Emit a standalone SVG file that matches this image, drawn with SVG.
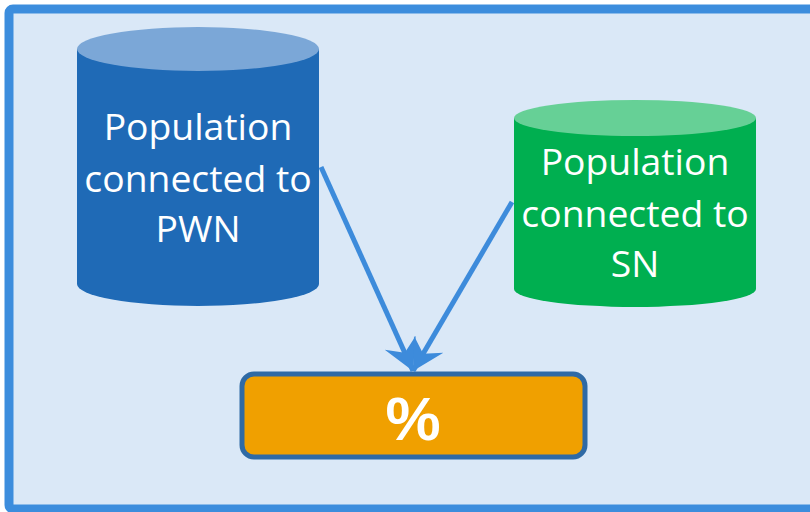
<svg xmlns="http://www.w3.org/2000/svg" width="810" height="512" viewBox="0 0 810 512">
  <defs>
    <style>
      .lbl { font-family: "Open Sans", "Noto Sans", sans-serif; font-size: 37.3px; fill: #ffffff; text-anchor: middle; }
      .pct { font-family: "Liberation Sans", Arial, sans-serif; font-size: 62px; font-weight: bold; fill: #ffffff; text-anchor: middle; }
      .conn { fill: none; stroke: #3D8BDB; stroke-width: 5; }
    </style>
    <marker id="arr" markerUnits="userSpaceOnUse" markerWidth="40" markerHeight="40" refX="32" refY="17" orient="auto" viewBox="0 0 40 34">
      <path d="M32,17 L1,0 L12,17 L1,34 Z" fill="#3D8BDB"/>
    </marker>
  </defs>

  <rect x="0" y="0" width="810" height="512" fill="#ffffff"/>
  <g id="frame">
    <rect x="9" y="9" width="812" height="500" rx="4" fill="#DAE8F7" stroke="#3C8DDD" stroke-width="9"/>
  </g>

  <g id="node-pwn">
    <path d="M77,49 L77,284 A121,22 0 0 0 319,284 L319,49 Z" fill="#1F6AB6"/>
    <ellipse cx="198" cy="49" rx="121" ry="22" fill="#7BA7D7"/>
    <text class="lbl" x="198" y="140">Population</text>
    <text class="lbl" x="198" y="192">connected to</text>
    <text class="lbl" x="198" y="242">PWN</text>
  </g>

  <g id="node-sn">
    <path d="M514,118 L514,289 A121,18 0 0 0 756,289 L756,118 Z" fill="#00AF50"/>
    <ellipse cx="635" cy="118" rx="121" ry="18" fill="#66D096"/>
    <text class="lbl" x="635" y="175">Population</text>
    <text class="lbl" x="635" y="227">connected to</text>
    <text class="lbl" x="635" y="277">SN</text>
  </g>

  <g id="node-pct">
    <rect x="242" y="374" width="343" height="83" rx="12" fill="#F0A000" stroke="#2F6AA5" stroke-width="5"/>
    <text class="pct" x="413" y="440">%</text>
  </g>

  <g id="connectors">
    <path class="conn" d="M321,167 L413,371" marker-end="url(#arr)"/>
    <path class="conn" d="M512,202 L413,371" marker-end="url(#arr)"/>
  </g>
</svg>
